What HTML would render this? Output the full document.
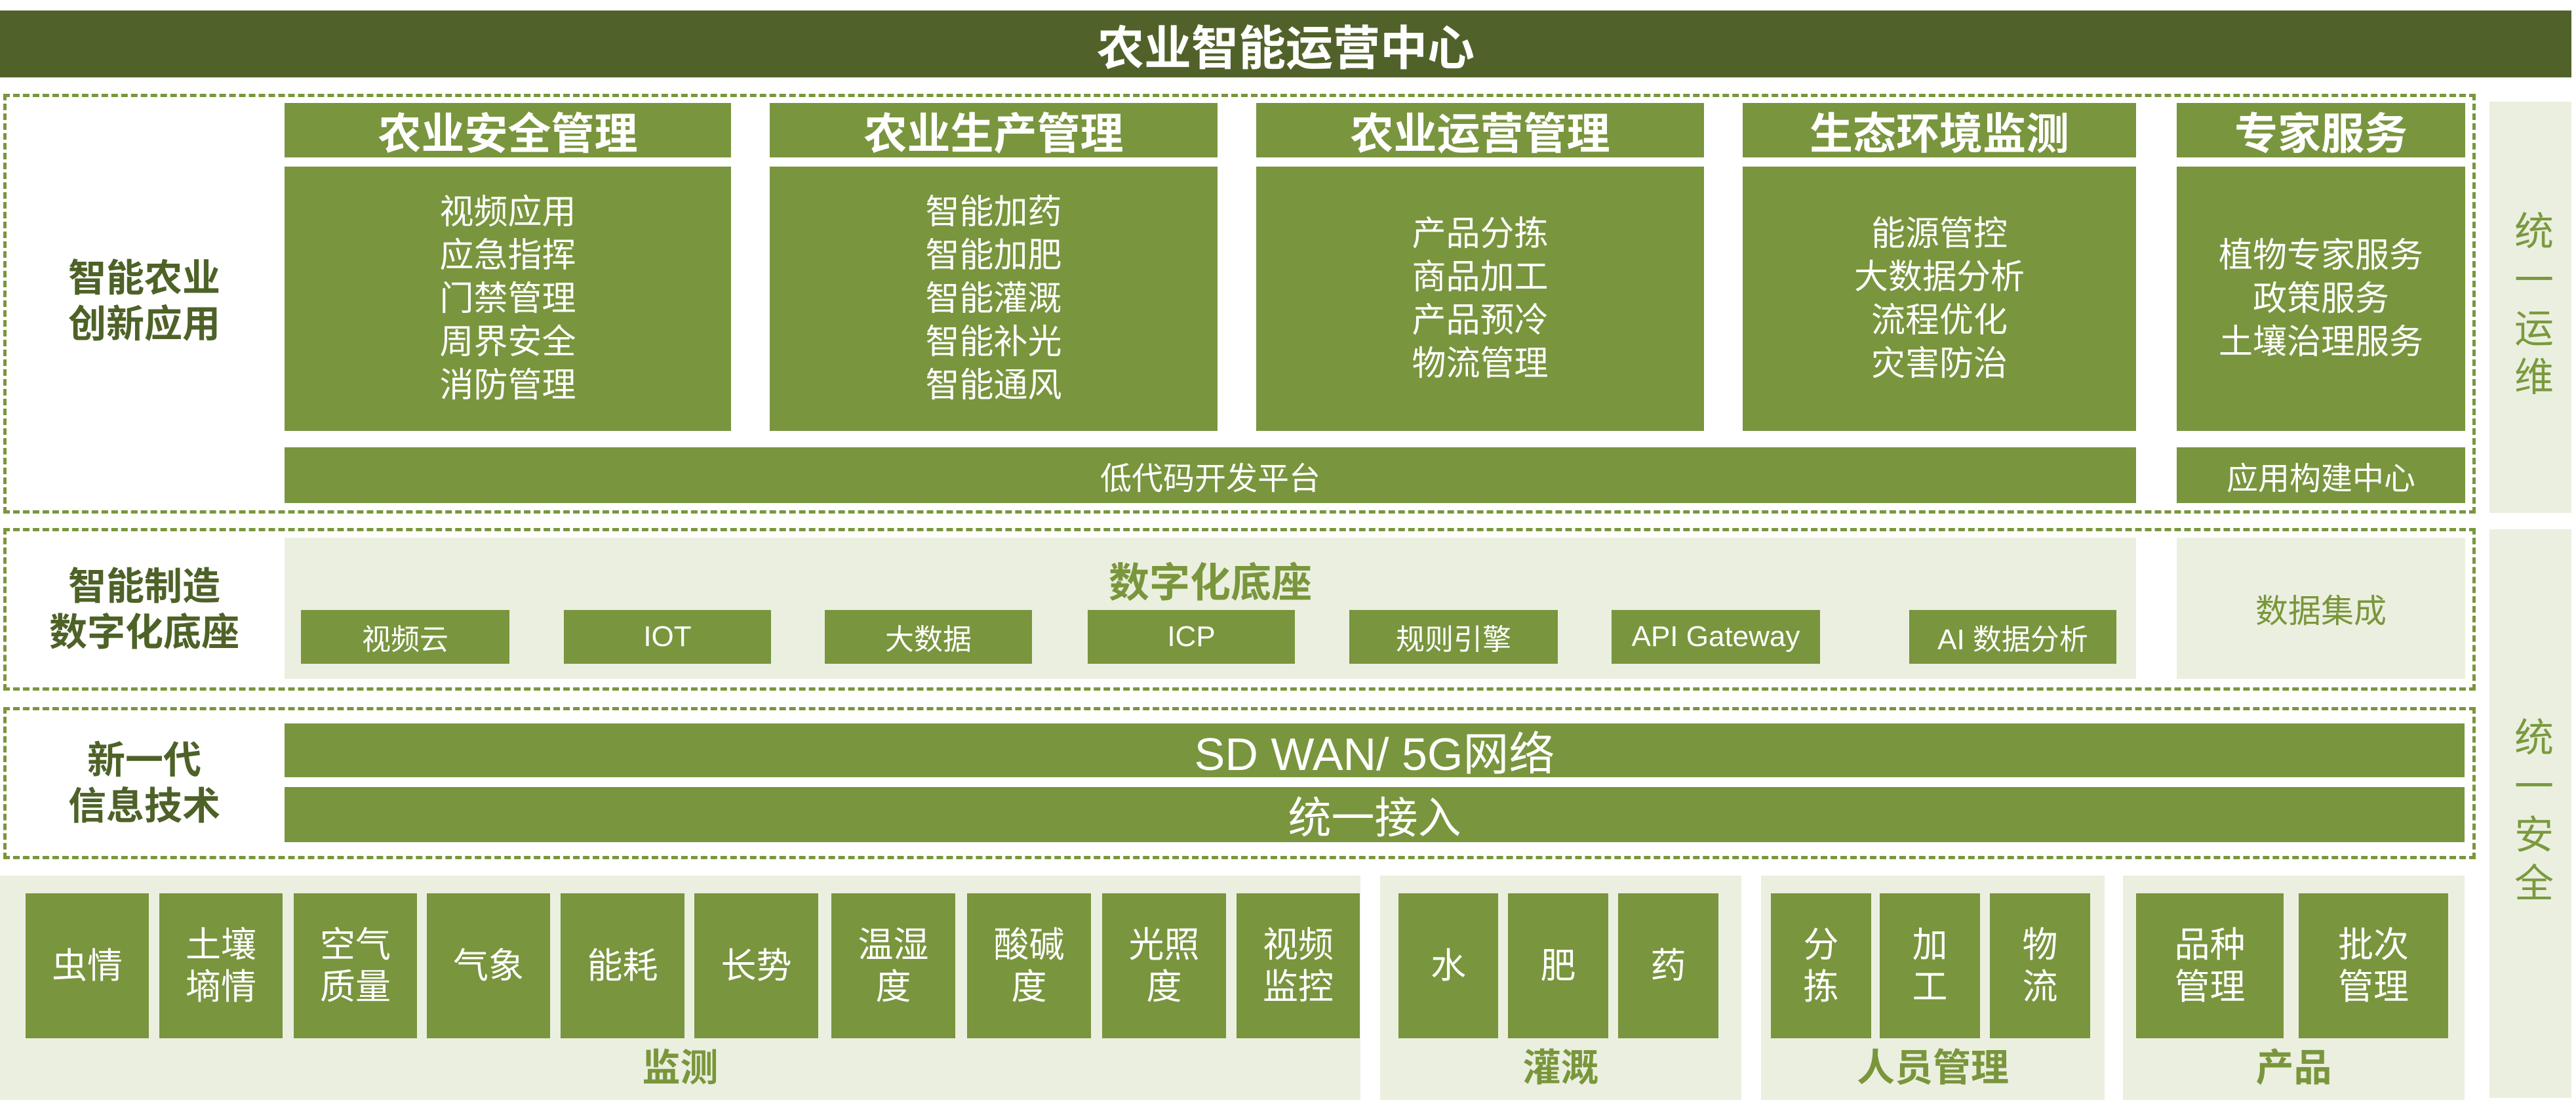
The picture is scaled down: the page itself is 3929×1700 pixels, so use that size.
<!DOCTYPE html>
<html><head><meta charset="utf-8"><style>
*{margin:0;padding:0;box-sizing:border-box}
body{width:3929px;height:1700px;background:#fff;position:relative;overflow:hidden;font-family:"Liberation Sans","Noto Sans CJK SC",sans-serif}
.a{position:absolute;display:flex;align-items:center;justify-content:center;text-align:center}
.g{background:#79953e;color:#fff}
.l{background:#ebefdf}
.dash{position:absolute;border:5px dashed #7a963c}
.lab{color:#4e6228;font-weight:bold;font-size:58px;line-height:70px}
.h{font-size:66px;font-weight:bold}
.c{font-size:52px;line-height:66px}
.t{font-size:54px;line-height:64px}
.s{font-size:44px}
.bl{color:#7a963c;font-weight:bold;font-size:58px}
.v{color:#7a9a3e;font-size:60px;line-height:88px;writing-mode:vertical-rl;letter-spacing:14px}
</style></head><body>
<div class="a" style="left:0;top:16px;width:3922px;height:102px;background:#50622a;color:#fff;font-size:72px;font-weight:bold">农业智能运营中心</div>

<div class="dash" style="left:5px;top:143px;width:3771px;height:640px"></div>
<div class="a lab" style="left:40px;top:380px;width:360px;height:160px">智能农业<br>创新应用</div>
<div class="a g h" style="left:434px;top:157px;width:681px;height:83px">农业安全管理</div>
<div class="a g h" style="left:1174px;top:157px;width:683px;height:83px">农业生产管理</div>
<div class="a g h" style="left:1916px;top:157px;width:683px;height:83px">农业运营管理</div>
<div class="a g h" style="left:2658px;top:157px;width:600px;height:83px">生态环境监测</div>
<div class="a g h" style="left:3320px;top:157px;width:440px;height:83px">专家服务</div>
<div class="a g c" style="left:434px;top:254px;width:681px;height:403px">视频应用<br>应急指挥<br>门禁管理<br>周界安全<br>消防管理</div>
<div class="a g c" style="left:1174px;top:254px;width:683px;height:403px">智能加药<br>智能加肥<br>智能灌溉<br>智能补光<br>智能通风</div>
<div class="a g c" style="left:1916px;top:254px;width:683px;height:403px">产品分拣<br>商品加工<br>产品预冷<br>物流管理</div>
<div class="a g c" style="left:2658px;top:254px;width:600px;height:403px">能源管控<br>大数据分析<br>流程优化<br>灾害防治</div>
<div class="a g c" style="left:3320px;top:254px;width:440px;height:403px">植物专家服务<br>政策服务<br>土壤治理服务</div>
<div class="a g" style="left:434px;top:682px;width:2824px;height:85px;font-size:48px">低代码开发平台</div>
<div class="a g" style="left:3320px;top:682px;width:440px;height:85px;font-size:48px">应用构建中心</div>
<div class="a l v" style="left:3797px;top:155px;width:125px;height:627px">统一运维</div>

<div class="dash" style="left:5px;top:805px;width:3771px;height:248px"></div>
<div class="a lab" style="left:20px;top:850px;width:400px;height:160px">智能制造<br>数字化底座</div>
<div class="a l" style="left:434px;top:820px;width:2824px;height:215px"></div>
<div class="a bl" style="left:434px;top:845px;width:2824px;height:76px;font-size:62px">数字化底座</div>
<div class="a g s" style="left:459px;top:930px;width:318px;height:82px">视频云</div>
<div class="a g s" style="left:860px;top:930px;width:316px;height:82px">IOT</div>
<div class="a g s" style="left:1258px;top:930px;width:316px;height:82px">大数据</div>
<div class="a g s" style="left:1659px;top:930px;width:316px;height:82px">ICP</div>
<div class="a g s" style="left:2058px;top:930px;width:318px;height:82px">规则引擎</div>
<div class="a g s" style="left:2458px;top:930px;width:318px;height:82px">API Gateway</div>
<div class="a g s" style="left:2912px;top:930px;width:316px;height:82px">AI 数据分析</div>
<div class="a l" style="left:3320px;top:820px;width:440px;height:215px;color:#7a963c;font-size:50px">数据集成</div>

<div class="dash" style="left:5px;top:1078px;width:3771px;height:232px"></div>
<div class="a lab" style="left:40px;top:1115px;width:360px;height:160px">新一代<br>信息技术</div>
<div class="a g" style="left:434px;top:1103px;width:3325px;height:82px;font-size:70px">SD WAN/ 5G网络</div>
<div class="a g" style="left:434px;top:1200px;width:3325px;height:84px;font-size:66px">统一接入</div>
<div class="a l v" style="left:3797px;top:807px;width:125px;height:867px">统一安全</div>

<div class="l" style="position:absolute;left:0;top:1335px;width:2075px;height:342px"></div>
<div class="l" style="position:absolute;left:2105px;top:1335px;width:551px;height:342px"></div>
<div class="l" style="position:absolute;left:2686px;top:1335px;width:524px;height:342px"></div>
<div class="l" style="position:absolute;left:3238px;top:1335px;width:521px;height:342px"></div>
<div class="a g t" style="left:39px;top:1362px;width:188px;height:221px">虫情</div>
<div class="a g t" style="left:243px;top:1362px;width:188px;height:221px">土壤<br>墒情</div>
<div class="a g t" style="left:448px;top:1362px;width:188px;height:221px">空气<br>质量</div>
<div class="a g t" style="left:651px;top:1362px;width:188px;height:221px">气象</div>
<div class="a g t" style="left:855px;top:1362px;width:189px;height:221px">能耗</div>
<div class="a g t" style="left:1059px;top:1362px;width:189px;height:221px">长势</div>
<div class="a g t" style="left:1268px;top:1362px;width:189px;height:221px">温湿<br>度</div>
<div class="a g t" style="left:1475px;top:1362px;width:189px;height:221px">酸碱<br>度</div>
<div class="a g t" style="left:1681px;top:1362px;width:189px;height:221px">光照<br>度</div>
<div class="a g t" style="left:1886px;top:1362px;width:188px;height:221px">视频<br>监控</div>
<div class="a bl" style="left:0;top:1588px;width:2075px;height:70px">监测</div>
<div class="a g t" style="left:2133px;top:1362px;width:152px;height:221px">水</div>
<div class="a g t" style="left:2300px;top:1362px;width:153px;height:221px">肥</div>
<div class="a g t" style="left:2468px;top:1362px;width:153px;height:221px">药</div>
<div class="a bl" style="left:2105px;top:1588px;width:551px;height:70px">灌溉</div>
<div class="a g t" style="left:2701px;top:1362px;width:153px;height:221px">分<br>拣</div>
<div class="a g t" style="left:2867px;top:1362px;width:153px;height:221px">加<br>工</div>
<div class="a g t" style="left:3035px;top:1362px;width:153px;height:221px">物<br>流</div>
<div class="a bl" style="left:2686px;top:1588px;width:524px;height:70px">人员管理</div>
<div class="a g t" style="left:3258px;top:1362px;width:225px;height:221px">品种<br>管理</div>
<div class="a g t" style="left:3506px;top:1362px;width:228px;height:221px">批次<br>管理</div>
<div class="a bl" style="left:3238px;top:1588px;width:521px;height:70px">产品</div>
</body></html>
